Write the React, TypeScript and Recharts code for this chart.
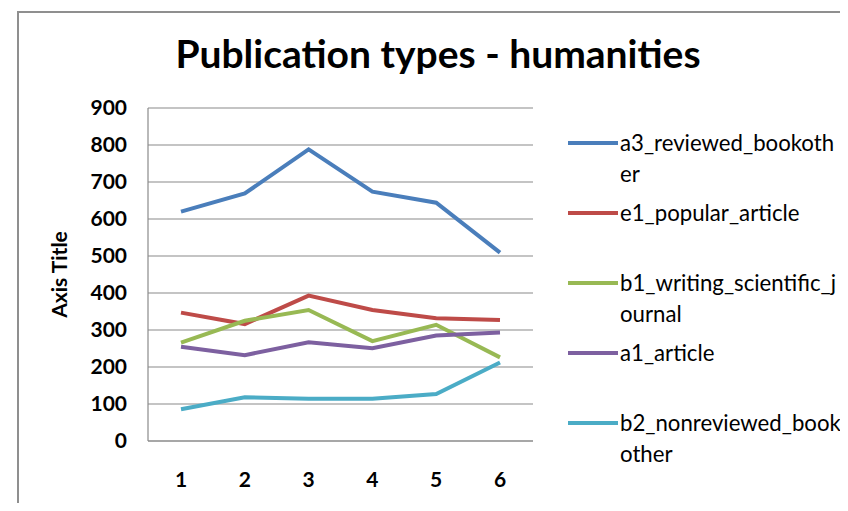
import React from 'react';
import { LineChart, Line, XAxis, YAxis, CartesianGrid } from 'recharts';

// chart values
const categories = ['1', '2', '3', '4', '5', '6'];
const a3ReviewedBookother = [620, 669, 788, 674, 644, 509];
const e1PopularArticle = [347, 316, 393, 354, 332, 327];
const b1WritingScientificJournal = [266, 325, 354, 270, 314, 226];
const a1Article = [255, 232, 267, 251, 285, 293];
const b2NonreviewedBookother = [86, 118, 114, 114, 127, 212];
const yTicks = [0, 100, 200, 300, 400, 500, 600, 700, 800, 900];

const seriesKeys = ['a3', 'e1', 'b1', 'a1', 'b2'];
const seriesValues = [
  a3ReviewedBookother,
  e1PopularArticle,
  b1WritingScientificJournal,
  a1Article,
  b2NonreviewedBookother,
];
const seriesNames = [
  'a3_reviewed_bookother',
  'e1_popular_article',
  'b1_writing_scientific_journal',
  'a1_article',
  'b2_nonreviewed_book other',
];
// legend text wraps like the original
const legendLines = [
  ['a3_reviewed_bookoth', 'er'],
  ['e1_popular_article'],
  ['b1_writing_scientific_j', 'ournal'],
  ['a1_article'],
  ['b2_nonreviewed_book', 'other'],
];

const COLORS = {
  a3: '#4A7EBB',
  e1: '#BE4B48',
  b1: '#98B954',
  a1: '#7D60A0',
  b2: '#4BACC6',
  GRID: '#8a8a8a',
  TEXT: '#000000',
  FRAME: '#8f8f8f',
};

const FONT = 'Lato, "Open Sans", sans-serif';

const data = categories.map((c, i) => {
  const row: Record<string, any> = { name: c };
  seriesKeys.forEach((k, j) => {
    row[k] = seriesValues[j][i];
  });
  return row;
});

// Excel-style legend on the right, kept outside the chart so it does not eat plot space
const ChartLegend = () => (
  <div
    style={{
      position: 'absolute',
      left: 568,
      top: 127,
      fontFamily: FONT,
      fontSize: 22.2,
      color: COLORS.TEXT,
    }}
  >
    {seriesKeys.map((k, i) => (
      <div key={k} style={{ position: 'relative', height: 70 }}>
        <div
          style={{
            position: 'absolute',
            left: 0,
            top: 14,
            width: 50,
            height: 4,
            background: COLORS[k as keyof typeof COLORS],
          }}
        />
        <div style={{ position: 'absolute', left: 52, top: 0, lineHeight: '31px', whiteSpace: 'nowrap' }}>
          {legendLines[i].map((l, j) => (
            <div key={j}>{l}</div>
          ))}
        </div>
      </div>
    ))}
  </div>
);

export default function App() {
  return (
    <div style={{ position: 'relative', width: 848, height: 511, margin: -8, background: '#fff', overflow: 'hidden' }}>
      {/* chart area frame: only its left and top edges are inside the picture */}
      <div style={{ position: 'absolute', left: 17, top: 11, width: 831, height: 2, background: COLORS.FRAME }} />
      <div style={{ position: 'absolute', left: 17, top: 11, width: 2, height: 500, background: COLORS.FRAME }} />
      <div
        style={{
          position: 'absolute',
          left: 28,
          width: 820,
          top: 34,
          textAlign: 'center',
          fontFamily: FONT,
          fontWeight: 700,
          fontSize: 39,
          lineHeight: '39px',
          color: COLORS.TEXT,
          whiteSpace: 'nowrap',
        }}
      >
        Publication types - humanities
      </div>
      <LineChart
        width={848}
        height={511}
        data={data}
        margin={{ top: 108, right: 315, bottom: 20, left: 60 }}
        style={{ position: 'absolute', left: 0, top: 0 }}
      >
        <CartesianGrid vertical={false} stroke={COLORS.GRID} strokeWidth={1.2} />
        <XAxis
          dataKey="name"
          height={50}
          padding={{ left: 33, right: 33 }}
          axisLine={{ stroke: COLORS.GRID, strokeWidth: 1.2 }}
          tickLine={false}
          tickSize={0}
          tickMargin={31}
          tick={{ fill: COLORS.TEXT, fontFamily: FONT, fontSize: 21, fontWeight: 700 }}
        />
        <YAxis
          width={88}
          domain={[0, 900]}
          ticks={yTicks}
          interval={0}
          axisLine={{ stroke: COLORS.GRID, strokeWidth: 1.2 }}
          tickLine={false}
          tickSize={0}
          tickMargin={21}
          tick={{ fill: COLORS.TEXT, fontFamily: FONT, fontSize: 21, fontWeight: 700 }}
          label={{
            value: 'Axis Title',
            angle: -90,
            position: 'insideLeft',
            offset: 0,
            style: { textAnchor: 'middle', fontFamily: FONT, fontSize: 21, fontWeight: 700, fill: COLORS.TEXT },
          }}
        />
        {seriesKeys.map((k, i) => (
          <Line
            key={k}
            dataKey={k}
            name={seriesNames[i]}
            type="linear"
            stroke={COLORS[k as keyof typeof COLORS]}
            strokeWidth={4}
            dot={false}
            isAnimationActive={false}
          />
        ))}
      </LineChart>
      <ChartLegend />
    </div>
  );
}
